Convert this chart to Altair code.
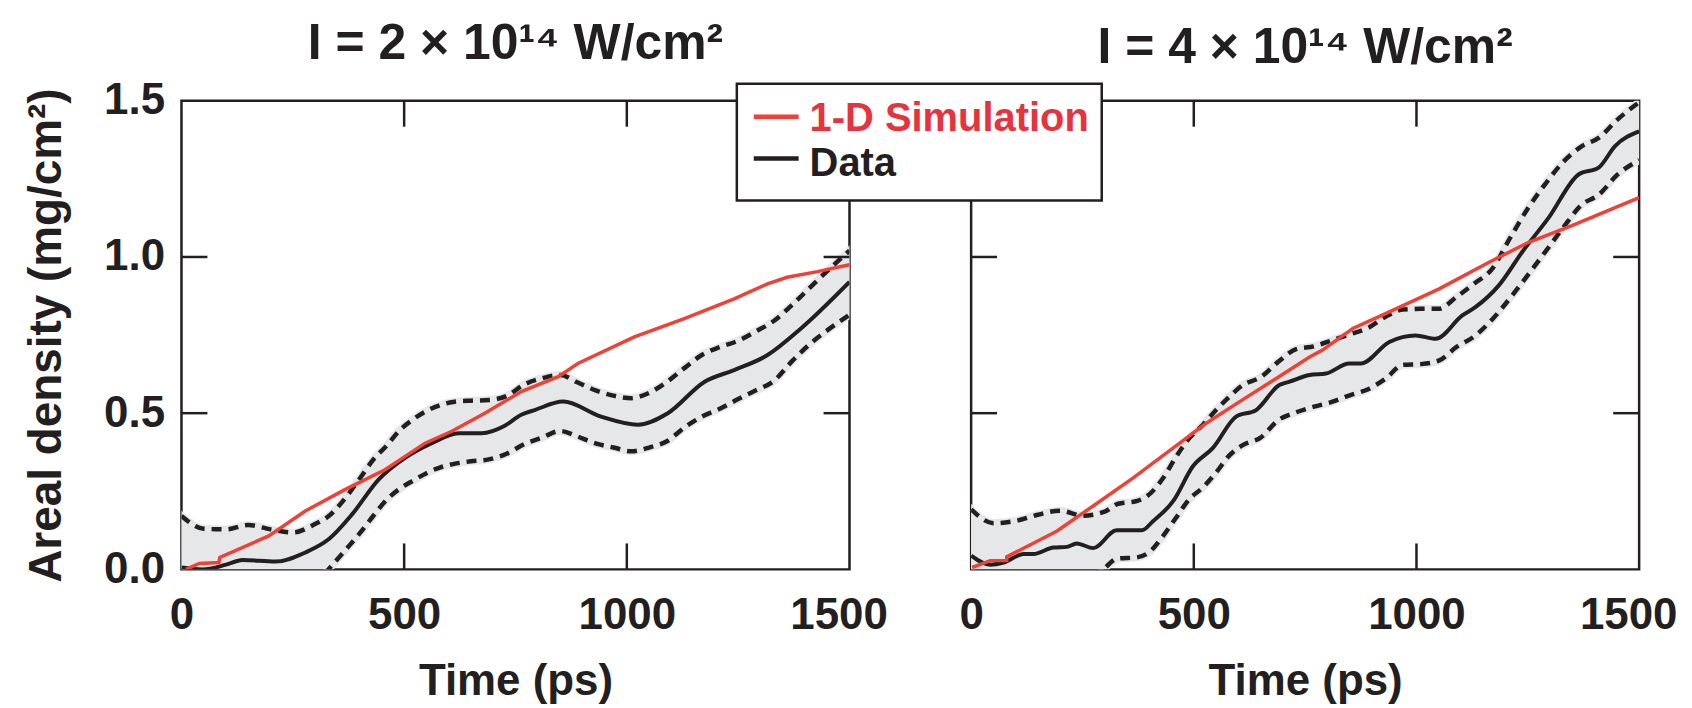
import altair as alt
import pandas as pd

# ---------------- data ----------------
band_t = [0, 50, 100, 150, 200, 250, 300, 330, 370, 400, 430, 460, 490, 520, 550, 580,
          610, 650, 690, 730, 770, 810, 850, 890, 930, 970, 1010, 1050, 1090, 1130, 1170,
          1210, 1250, 1290, 1330, 1370, 1410, 1450, 1500]

left_upper = [0.171, 0.13, 0.128, 0.142, 0.128, 0.118, 0.145, 0.17, 0.232, 0.29, 0.35, 0.395,
              0.445, 0.48, 0.507, 0.525, 0.536, 0.54, 0.542, 0.555, 0.592, 0.612, 0.622, 0.598,
              0.573, 0.556, 0.548, 0.565, 0.6, 0.645, 0.688, 0.712, 0.732, 0.762, 0.795, 0.845,
              0.9, 0.955, 1.02]
left_lower = [-0.2, -0.2, -0.2, -0.2, -0.2, -0.14, -0.05, 0.0, 0.065, 0.115, 0.17, 0.222,
              0.258, 0.284, 0.308, 0.326, 0.337, 0.346, 0.352, 0.37, 0.401, 0.422, 0.443, 0.425,
              0.403, 0.39, 0.378, 0.39, 0.41, 0.455, 0.49, 0.515, 0.545, 0.573, 0.603, 0.665,
              0.72, 0.765, 0.815]
left_data_t = [0, 47, 100, 137, 211, 278, 331, 383, 443, 502, 562, 622, 674, 726, 763, 793,
               857, 942, 1025, 1092, 1174, 1241, 1316, 1391, 1500]
left_data_v = [0.006, 0.0, 0.015, 0.03, 0.025, 0.054, 0.097, 0.176, 0.288, 0.357, 0.404, 0.436,
               0.436, 0.46, 0.495, 0.51, 0.537, 0.489, 0.463, 0.5, 0.6, 0.638, 0.686, 0.771, 0.92]
left_sim_t = [10, 40, 84, 86, 196, 278, 368, 457, 547, 607, 681, 763, 846, 890, 1017, 1129,
              1241, 1316, 1360, 1428, 1500]
left_sim_v = [0.0, 0.019, 0.022, 0.038, 0.107, 0.187, 0.256, 0.319, 0.404, 0.442, 0.5, 0.569,
              0.617, 0.659, 0.744, 0.803, 0.866, 0.914, 0.935, 0.953, 0.975]

right_upper = [0.192, 0.148, 0.155, 0.175, 0.188, 0.172, 0.185, 0.21, 0.218, 0.24, 0.29, 0.36,
               0.42, 0.462, 0.51, 0.553, 0.59, 0.615, 0.665, 0.705, 0.714, 0.733, 0.752, 0.772,
               0.808, 0.832, 0.834, 0.834, 0.872, 0.915, 0.962, 1.06, 1.155, 1.235, 1.305, 1.353,
               1.382, 1.438, 1.495]
right_lower = [-0.2, -0.2, -0.2, -0.2, -0.2, -0.1, 0.003, 0.035, 0.038, 0.055, 0.105, 0.165,
               0.225, 0.262, 0.31, 0.365, 0.398, 0.422, 0.478, 0.503, 0.521, 0.536, 0.557, 0.576,
               0.61, 0.655, 0.657, 0.668, 0.712, 0.746, 0.8, 0.868, 0.942, 1.018, 1.095, 1.166,
               1.2, 1.262, 1.31]
right_data_t = [0, 43, 73, 118, 140, 185, 215, 237, 274, 327, 383, 409, 454, 498, 543, 595, 640,
                692, 715, 760, 797, 849, 875, 939, 998, 1043, 1103, 1133, 1185, 1237, 1297, 1364,
                1409, 1446, 1500]
right_data_v = [0.044, 0.015, 0.022, 0.049, 0.049, 0.07, 0.072, 0.083, 0.068, 0.125, 0.125, 0.155,
                0.219, 0.33, 0.389, 0.489, 0.51, 0.59, 0.601, 0.622, 0.627, 0.659, 0.659, 0.728,
                0.749, 0.738, 0.813, 0.84, 0.909, 1.015, 1.126, 1.264, 1.286, 1.355, 1.402]
right_sim_t = [2, 43, 80, 80, 193, 274, 364, 454, 528, 603, 685, 760, 789, 857, 939, 1051, 1163,
               1252, 1349, 1500]
right_sim_v = [0.006, 0.028, 0.028, 0.04, 0.123, 0.203, 0.293, 0.389, 0.468, 0.537, 0.611, 0.68,
               0.702, 0.771, 0.824, 0.898, 0.983, 1.047, 1.1, 1.19]

x_ticks = [500, 1000]
y_ticks = [0.5, 1.0]
x_labels = [0, 500, 1000, 1500]
y_labels = [0.0, 0.5, 1.0, 1.5]
titles = ["I = 2 × 10¹⁴ W/cm²", "I = 4 × 10¹⁴ W/cm²"]
legend_labels = ["1-D Simulation", "Data"]
x_title = "Time (ps)"
y_title = "Areal density (mg/cm²)"

# ---------------- style ----------------
RED = "#ef4136"
RED_TEXT = "#e5343d"
BLACK = "#231f20"
GRAY = "#e6e7e8"
FONT = "Liberation Sans"
W, H = 670, 470
TICK = 26
XS = alt.Scale(domain=[0, 1500], nice=False, zero=False)
YS = alt.Scale(domain=[0, 1.5], nice=False, zero=False)


def x_axis():
    return alt.Axis(values=x_labels, format="d", grid=False, ticks=False, domain=False,
                    labelFont=FONT, labelFontSize=44, labelFontWeight="bold",
                    labelColor=BLACK, labelPadding=24, labelFlush=False,
                    labelOffset={"condition": {"test": "datum.value == 1500", "value": -11},
                                 "value": 0},
                    title=x_title, titleFont=FONT, titleFontSize=44,
                    titleFontWeight="bold", titleColor=BLACK, titlePadding=22)


def panel(idx, upper, lower, data_t, data_v, sim_t, sim_v, with_legend):
    if idx == 0:
        yaxis = alt.Axis(values=y_labels, format=".1f", grid=False, ticks=False, domain=False,
                         labelFont=FONT, labelFontSize=44, labelFontWeight="bold",
                         labelColor=BLACK, labelPadding=17, labelFlush=False,
                         title=y_title, titleFont=FONT, titleFontSize=46,
                         titleFontWeight="bold", titleColor=BLACK, titlePadding=33)
    else:
        yaxis = None

    band_df = pd.DataFrame({"t": band_t, "v": lower, "v2": upper})
    band = alt.Chart(band_df).mark_area(color=GRAY, stroke=GRAY, strokeWidth=8, clip=True,
                                        interpolate="monotone").encode(
        x=alt.X("t:Q", scale=XS, axis=x_axis()),
        y=alt.Y("v:Q", scale=YS, axis=yaxis),
        y2="v2:Q",
    )
    up = alt.Chart(pd.DataFrame({"t": band_t, "v": upper})).mark_line(
        color=BLACK, strokeWidth=4.5, strokeDash=[10, 7], clip=True,
        interpolate="monotone").encode(
        x=alt.X("t:Q", scale=XS), y=alt.Y("v:Q", scale=YS))
    lo = alt.Chart(pd.DataFrame({"t": band_t, "v": lower})).mark_line(
        color=BLACK, strokeWidth=4.5, strokeDash=[10, 7], clip=True,
        interpolate="monotone").encode(
        x=alt.X("t:Q", scale=XS), y=alt.Y("v:Q", scale=YS))
    data = alt.Chart(pd.DataFrame({"t": data_t, "v": data_v})).mark_line(
        color=BLACK, strokeWidth=4, clip=True, interpolate="monotone").encode(
        x=alt.X("t:Q", scale=XS), y=alt.Y("v:Q", scale=YS))
    sim = alt.Chart(pd.DataFrame({"t": sim_t, "v": sim_v, "i": list(range(len(sim_t)))})).mark_line(
        color=RED, strokeWidth=3.5, clip=True).encode(
        x=alt.X("t:Q", scale=XS), y=alt.Y("v:Q", scale=YS), order="i:Q")

    xt = pd.DataFrame({"t": x_ticks})
    yt = pd.DataFrame({"v": y_ticks})
    tb = alt.Chart(xt).mark_rule(color=BLACK, strokeWidth=2.5).encode(
        x=alt.X("t:Q", scale=XS), y=alt.value(H), y2=alt.value(H - TICK))
    tt = alt.Chart(xt).mark_rule(color=BLACK, strokeWidth=2.5).encode(
        x=alt.X("t:Q", scale=XS), y=alt.value(0), y2=alt.value(TICK))
    tl = alt.Chart(yt).mark_rule(color=BLACK, strokeWidth=2.5).encode(
        y=alt.Y("v:Q", scale=YS), x=alt.value(0), x2=alt.value(TICK))
    tr = alt.Chart(yt).mark_rule(color=BLACK, strokeWidth=2.5).encode(
        y=alt.Y("v:Q", scale=YS), x=alt.value(W), x2=alt.value(W - TICK))

    layers = [band, up, lo, data, sim, tb, tt, tl, tr]

    if with_legend:
        box = alt.Chart(pd.DataFrame({"k": [0]})).mark_rect(
            fill="white", stroke=BLACK, strokeWidth=2.5).encode(
            x=alt.value(-235), x2=alt.value(131), y=alt.value(-17), y2=alt.value(100))
        l1 = alt.Chart(pd.DataFrame({"label": [legend_labels[0]]})).mark_rule(
            color=RED, strokeWidth=4.5).encode(
            x=alt.value(-218), x2=alt.value(-173), y=alt.value(16))
        l2 = alt.Chart(pd.DataFrame({"label": [legend_labels[1]]})).mark_rule(
            color=BLACK, strokeWidth=4.5).encode(
            x=alt.value(-218), x2=alt.value(-173), y=alt.value(58))
        t1 = alt.Chart(pd.DataFrame({"label": [legend_labels[0]]})).mark_text(
            align="left", baseline="alphabetic", font=FONT, fontSize=40, fontWeight="bold",
            color=RED_TEXT).encode(x=alt.value(-162), y=alt.value(30), text="label:N")
        t2 = alt.Chart(pd.DataFrame({"label": [legend_labels[1]]})).mark_text(
            align="left", baseline="alphabetic", font=FONT, fontSize=40, fontWeight="bold",
            color=BLACK).encode(x=alt.value(-162), y=alt.value(75), text="label:N")
        layers += [box, l1, l2, t1, t2]

    return alt.layer(*layers).properties(
        width=W, height=H,
        title=alt.TitleParams(titles[idx], font=FONT, fontSize=50, fontWeight="bold",
                              color=BLACK, anchor="middle", offset=10),
    )


left = panel(0, left_upper, left_lower, left_data_t, left_data_v, left_sim_t, left_sim_v, False)
right = panel(1, right_upper, right_lower, right_data_t, right_data_v, right_sim_t, right_sim_v, True)

chart = alt.hconcat(left, right, spacing=122, bounds="flush").properties(
    padding={"left": 14, "top": 8, "right": 5, "bottom": 5},
    background="white",
).configure_view(stroke=BLACK, strokeWidth=2.5)

chart.save("out.html", embed_options={"renderer": "svg", "actions": False})
